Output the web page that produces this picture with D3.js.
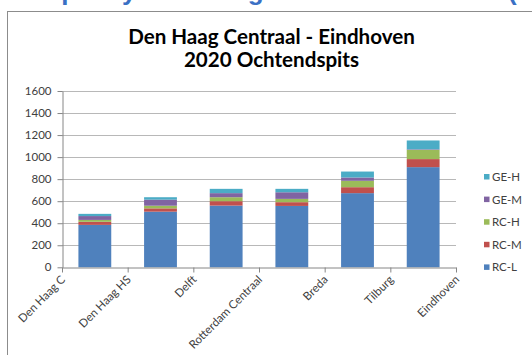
<!DOCTYPE html>
<html>
<head>
<meta charset="utf-8">
<script src="https://cdn.jsdelivr.net/npm/d3@7"></script>
<style>
  html, body { margin: 0; padding: 0; background: #ffffff; }
  svg { display: block; }
</style>
</head>
<body>
<svg id="chart" width="532" height="355"></svg>
<script>
// Stations along the corridor; each bar is the trip segment between two neighbouring stations
const stations = ["Den Haag C", "Den Haag HS", "Delft", "Rotterdam Centraal", "Breda", "Tilburg", "Eindhoven"];
const segments = stations.slice(0, -1).map((s, i) => s + " – " + stations[i + 1]);

// Passengers per segment, by scenario class (stacked bottom to top)
const seriesNames = ["RC-L", "RC-M", "RC-H", "GE-M", "GE-H"];
const rcL = [385, 505, 560, 557, 673, 909];
const rcM = [28, 30, 40, 34, 54, 73];
const rcH = [17, 24, 36, 30, 58, 84];
const geM = [35, 55, 37, 60, 30, 5];
const geH = [20, 22, 39, 31, 54, 80];
const seriesColors = ["#4F81BD", "#C0504D", "#9BBB59", "#8064A2", "#4BACC6"];

const yTicks = [0, 200, 400, 600, 800, 1000, 1200, 1400, 1600];
const titleLines = ["Den Haag Centraal - Eindhoven", "2020 Ochtendspits"];

const rows = segments.map((seg, i) => ({
  segment: seg,
  "RC-L": rcL[i], "RC-M": rcM[i], "RC-H": rcH[i], "GE-M": geM[i], "GE-H": geH[i]
}));

const svg = d3.select("#chart");
const font = "Lato, 'Open Sans', sans-serif";

// slide heading above the chart box, mostly outside the view
const head = svg.append("text")
  .attr("y", 0)
  .attr("font-family", "'Liberation Sans', Arial, sans-serif")
  .attr("font-weight", "bold")
  .attr("font-size", 26)
  .attr("fill", "#3A70C4");
head.append("tspan").attr("x", 28).text("Capacity Den Haag – Eindhoven");
head.append("tspan").attr("x", 508).text("(2020)");

// chart box
svg.append("rect")
  .attr("x", 7.5).attr("y", 11.5)
  .attr("width", 620).attr("height", 400)
  .attr("fill", "#ffffff")
  .attr("stroke", "#8c8c8c").attr("stroke-width", 1);

const plot = { left: 62, right: 456, top: 91, bottom: 267.3 };

const x = d3.scaleBand()
  .domain(segments)
  .range([plot.left, plot.right])
  .paddingInner(0.5)
  .paddingOuter(0.25);

const xStations = d3.scalePoint()
  .domain(stations)
  .range([plot.left, plot.right])
  .padding(0);

const y = d3.scaleLinear()
  .domain([0, 1600])
  .range([plot.bottom, plot.top]);

// horizontal gridlines
svg.append("g")
  .selectAll("line")
  .data(yTicks.filter(t => t > 0))
  .join("line")
  .attr("x1", plot.left).attr("x2", plot.right)
  .attr("y1", d => Math.round(y(d)) + 0.5).attr("y2", d => Math.round(y(d)) + 0.5)
  .attr("stroke", "#b8b8b8").attr("stroke-width", 1);

// stacked bars
const stack = d3.stack().keys(seriesNames)(rows);
svg.append("g")
  .selectAll("g")
  .data(stack)
  .join("g")
  .attr("fill", (d, i) => seriesColors[i])
  .selectAll("rect")
  .data(d => d)
  .join("rect")
  .attr("x", d => x(d.data.segment))
  .attr("width", x.bandwidth())
  .attr("y", d => y(d[1]))
  .attr("height", d => y(d[0]) - y(d[1]));

// y axis
const yAxis = svg.append("g")
  .attr("transform", `translate(${plot.left + 0.5},0)`)
  .call(d3.axisLeft(y).tickValues(yTicks).tickFormat(d3.format("d"))
    .tickSize(5).tickSizeOuter(0).tickPadding(6));
yAxis.select(".domain").attr("stroke", "#868686");
yAxis.selectAll(".tick line").attr("stroke", "#868686");
yAxis.selectAll(".tick text")
  .attr("font-family", font).attr("font-size", 11.5).attr("fill", "#404040");

// x axis: ticks at the stations, which bound the segments
const xAxis = svg.append("g")
  .attr("transform", `translate(0,${Math.round(plot.bottom) + 0.5})`)
  .call(d3.axisBottom(xStations).tickSize(5).tickSizeOuter(0).tickFormat(() => ""));
xAxis.select(".domain").attr("stroke", "#868686");
xAxis.selectAll(".tick line").attr("stroke", "#868686");

svg.append("g")
  .selectAll("text")
  .data(stations)
  .join("text")
  .attr("transform", d => `translate(${xStations(d) + 4},${plot.bottom + 13}) rotate(-45)`)
  .attr("text-anchor", "end")
  .attr("font-family", font).attr("font-size", 11.5).attr("fill", "#404040")
  .text(d => d);

// title, sized so the first line spans the measured width
const title = svg.append("g")
  .attr("font-family", font).attr("font-weight", "bold").attr("fill", "#000000")
  .attr("text-anchor", "middle");
const t1 = title.append("text").attr("x", 271.5).attr("y", 44).attr("font-size", 18).text(titleLines[0]);
const w = t1.node().getComputedTextLength();
const titleSize = 18 * 287 / w;
t1.attr("font-size", titleSize);
title.append("text").attr("x", 271.5).attr("y", 67).attr("font-size", titleSize).text(titleLines[1]);

// legend, top item is the top of the stack
const legendOrder = seriesNames.slice().reverse();
const legend = svg.append("g")
  .selectAll("g")
  .data(legendOrder)
  .join("g")
  .attr("transform", (d, i) => `translate(484,${177 + i * 22.6})`);
legend.append("rect")
  .attr("x", 0).attr("y", -3)
  .attr("width", 5.5).attr("height", 5.5)
  .attr("fill", d => seriesColors[seriesNames.indexOf(d)]);
legend.append("text")
  .attr("x", 8).attr("y", 0).attr("dy", "0.35em")
  .attr("font-family", font).attr("font-size", 11.5).attr("fill", "#404040")
  .text(d => d);
</script>
</body>
</html>
